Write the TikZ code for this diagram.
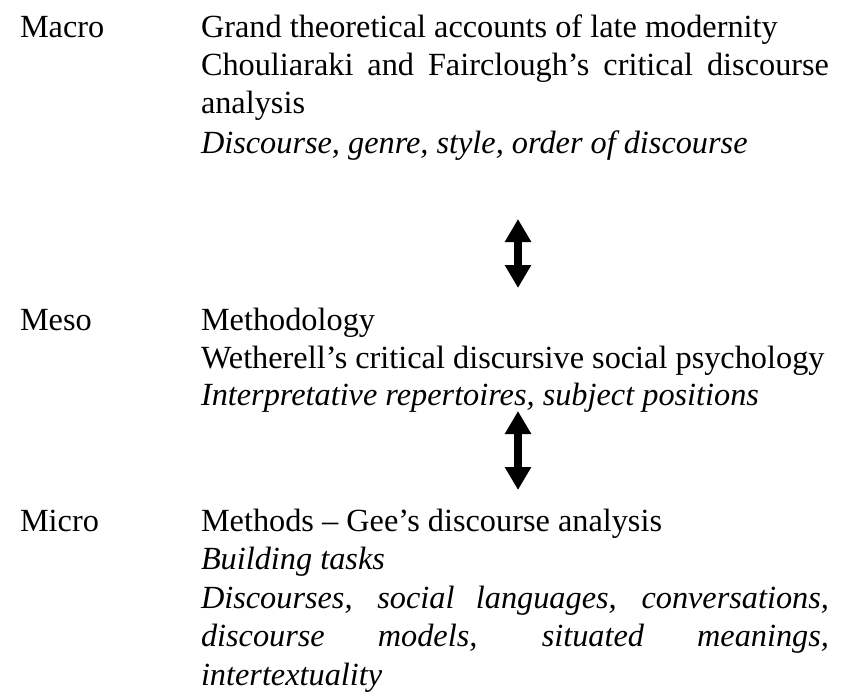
\documentclass[tikz,border=0pt]{standalone}
\usepackage{fontspec}
\setmainfont{Liberation Serif}
\usetikzlibrary{arrows.meta}
\begin{document}
\begin{tikzpicture}[x=1pt,y=-1pt,
  txt/.style={anchor=base west,inner sep=0pt,outer sep=0pt,font=\fontsize{32.3}{39}\selectfont},
  levelarrow/.style={line width=8pt,
    {Triangle[width=25pt,length=23pt]}-{Triangle[width=25pt,length=23pt]}}]
\useasboundingbox (0,0) rectangle (850,699);
\def\colw{628pt}
% Macro level
\node[txt] (macro) at (20,37) {Macro};
\node[txt] (ma1) at (201,37) {Grand theoretical accounts of late modernity};
\node[txt] (ma2) at (201,75) {\makebox[\colw][s]{Chouliaraki and Fairclough’s critical discourse}};
\node[txt] (ma3) at (201,113) {analysis};
\node[txt] (ma4) at (201,153) {\itshape Discourse, genre, style, order of discourse};
% Meso level
\node[txt] (meso) at (20,330) {Meso};
\node[txt] (me1) at (201,330) {Methodology};
\node[txt] (me2) at (201,368) {Wetherell’s critical discursive social psychology};
\node[txt] (me3) at (201,405) {\itshape Interpretative repertoires, subject positions};
% Micro level
\node[txt] (micro) at (20,531) {Micro};
\node[txt] (mi1) at (201,531) {Methods – Gee’s discourse analysis};
\node[txt] (mi2) at (201,569) {\itshape Building tasks};
\node[txt] (mi3) at (201,608) {\itshape\makebox[\colw][s]{Discourses, social languages, conversations,}};
\node[txt] (mi4) at (201,646) {\itshape\makebox[\colw][s]{discourse models, situated meanings,}};
\node[txt] (mi5) at (201,685) {\itshape intertextuality};
% two-way arrows between levels
\coordinate (a1t) at (518,219);
\coordinate (a1b) at (518,288);
\coordinate (a2t) at (518,411);
\coordinate (a2b) at (518,490);
\draw[levelarrow] (a1t) -- (a1b);
\draw[levelarrow] (a2t) -- (a2b);
\end{tikzpicture}
\end{document}
